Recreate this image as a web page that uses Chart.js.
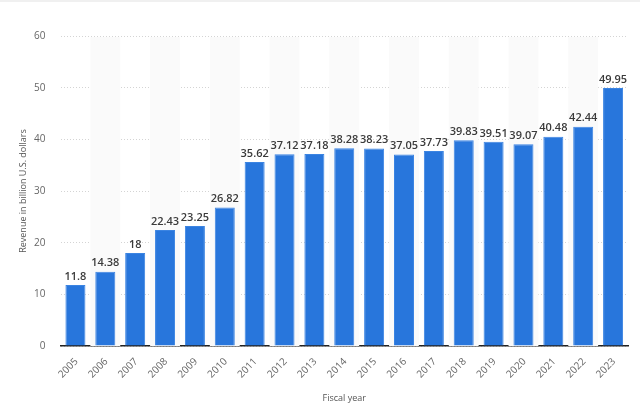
<!DOCTYPE html>
<html>
<head>
<meta charset="utf-8">
<script src="https://cdn.jsdelivr.net/npm/chart.js@4/dist/chart.umd.min.js"></script>
<style>
  html, body { margin: 0; padding: 0; background: #fff; }
  body { width: 640px; height: 418px; border-top: 2px solid #f0f0f0; box-sizing: border-box; }
  #wrap { width: 640px; height: 416px; position: relative; }
</style>
</head>
<body>
<div id="wrap"><canvas id="barChart"></canvas></div>
<script>
const years = ['2005', '2006', '2007', '2008', '2009', '2010', '2011', '2012', '2013', '2014',
  '2015', '2016', '2017', '2018', '2019', '2020', '2021', '2022', '2023'];
const revenue = [11.8, 14.38, 18, 22.43, 23.25, 26.82, 35.62, 37.12, 37.18, 38.28,
  38.23, 37.05, 37.73, 39.83, 39.51, 39.07, 40.48, 42.44, 49.95];
const yTicks = [0, 10, 20, 30, 40, 50, 60];

Chart.defaults.font.family = "'Open Sans', 'Noto Sans', sans-serif";

// light stripes behind every second year
const stripes = {
  id: 'stripes',
  beforeDatasetsDraw(chart) {
    const { ctx, chartArea, scales: { x } } = chart;
    const w = x.width / years.length;
    ctx.save();
    ctx.fillStyle = '#fafafa';
    years.forEach((y, i) => {
      if (i % 2 === 1) {
        ctx.fillRect(x.getPixelForValue(i) - w / 2, chartArea.top + 1, w, chartArea.bottom - chartArea.top - 1);
      }
    });
    ctx.restore();
  }
};

// value labels above bars + 45 degree year labels
const labels = {
  id: 'labels',
  afterDatasetsDraw(chart) {
    const { ctx, chartArea, scales: { x } } = chart;
    const meta = chart.getDatasetMeta(0);
    ctx.save();
    ctx.font = "600 11px 'Open Sans', sans-serif";
    ctx.fillStyle = '#3a3a3a';
    ctx.textAlign = 'center';
    ctx.textBaseline = 'bottom';
    meta.data.forEach((bar, i) => {
      ctx.fillText(String(revenue[i]), bar.x, bar.y - 3);
    });

    ctx.font = "10px 'Open Sans', sans-serif";
    ctx.fillStyle = '#666';
    ctx.textAlign = 'right';
    ctx.textBaseline = 'middle';
    years.forEach((yr, i) => {
      ctx.save();
      ctx.translate(x.getPixelForValue(i) + 1, chartArea.bottom + 14);
      ctx.rotate(-Math.PI / 4);
      ctx.fillText(yr, 0, 0);
      ctx.restore();
    });
    ctx.restore();
  }
};

new Chart(document.getElementById('barChart'), {
  type: 'bar',
  data: {
    labels: years,
    datasets: [{
      label: 'Revenue',
      data: revenue,
      backgroundColor: '#2876dc',
      borderColor: '#3b84e2',
      borderWidth: { top: 1, left: 1, right: 1, bottom: 0 },
      categoryPercentage: 1,
      barPercentage: 0.67
    }]
  },
  options: {
    responsive: true,
    maintainAspectRatio: false,
    animation: false,
    layout: { padding: { top: 34, right: 12, left: 18, bottom: 14 } },
    plugins: {
      legend: { display: false },
      tooltip: { enabled: false }
    },
    scales: {
      x: {
        grid: { display: false, drawTicks: false },
        border: { color: '#222', width: 1.5 },
        ticks: { display: false },
        title: {
          display: true,
          text: 'Fiscal year',
          color: '#555',
          font: { size: 9 },
          padding: { top: 0, bottom: 0 }
        },
        afterFit(scale) { scale.height = 58; }
      },
      y: {
        min: 0,
        max: 60,
        afterBuildTicks(scale) { scale.ticks = yTicks.map(v => ({ value: v })); },
        grid: { color: '#d4d4d4', drawTicks: false },
        border: { display: false, dash: [1, 2] },
        ticks: { color: '#666', font: { size: 10 }, padding: 15 },
        title: {
          display: true,
          text: 'Revenue in billion U.S. dollars',
          color: '#555',
          font: { size: 9 },
          padding: { top: 0, bottom: 0 }
        },
        afterFit(scale) { scale.width = 42.5; }
      }
    }
  },
  plugins: [stripes, labels]
});
</script>
</body>
</html>
